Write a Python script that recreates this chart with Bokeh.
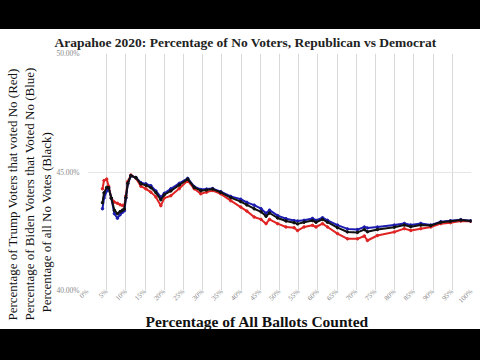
from math import pi
from bokeh.plotting import figure
from bokeh.models import Range1d, FixedTicker, Title, Div
from bokeh.layouts import column
from bokeh.embed import file_html
from bokeh.resources import INLINE

# ---- data ----
pct_counted = [3.9, 4.3, 5.0, 5.5, 6.2, 7.0, 7.8, 8.5, 9.1, 9.6, 10.0, 10.5, 11.3, 12.6, 13.9,
               15.2, 16.5, 17.8, 19.1, 20.0, 21.7, 23.9, 26.1, 27.8, 29.5, 31.0, 32.6, 34.7,
               37.3, 39.9, 41.5, 43.4, 45.2, 46.5, 47.4, 49.5, 51.7, 53.8, 54.7, 56.4, 58.6,
               59.5, 61.2, 62.5, 65.1, 67.7, 70.3, 72.1, 72.9, 75.5, 79.9, 82.5, 84.2, 86.8,
               89.4, 92.0, 94.5, 97.2, 99.8]

trump_no = [44.29, 44.64, 44.70, 44.40, 43.90, 43.73, 43.68, 43.62, 43.59, 43.60, 44.00, 44.60,
            44.87, 44.74, 44.40, 44.29, 44.15, 43.95, 43.58, 43.90, 44.00, 44.30, 44.64, 44.29,
            44.08, 44.15, 44.22, 44.08, 43.79, 43.52, 43.35, 43.10, 43.00, 42.82, 43.00, 42.82,
            42.68, 42.65, 42.53, 42.68, 42.75, 42.68, 42.82, 42.68, 42.40, 42.18, 42.18, 42.30,
            42.11, 42.32, 42.47, 42.61, 42.53, 42.61, 42.68, 42.82, 42.86, 42.93, 42.92]

biden_no = [43.45, 43.90, 44.20, 44.32, 43.90, 43.24, 43.05, 43.20, 43.30, 43.37, 43.90, 44.50,
            44.84, 44.77, 44.55, 44.50, 44.42, 44.20, 43.94, 44.10, 44.29, 44.52, 44.73, 44.38,
            44.26, 44.28, 44.30, 44.17, 43.97, 43.85, 43.72, 43.60, 43.45, 43.26, 43.39, 43.16,
            43.03, 42.95, 42.93, 42.96, 43.04, 42.96, 43.07, 42.96, 42.76, 42.60, 42.57, 42.68,
            42.64, 42.68, 42.76, 42.83, 42.76, 42.83, 42.76, 42.90, 42.94, 42.99, 42.94]

all_no = [43.70, 44.12, 44.35, 44.34, 43.90, 43.39, 43.24, 43.33, 43.39, 43.44, 43.93, 44.53,
          44.85, 44.76, 44.50, 44.44, 44.34, 44.13, 43.83, 44.04, 44.20, 44.45, 44.70, 44.35,
          44.21, 44.24, 44.28, 44.14, 43.92, 43.75, 43.61, 43.45, 43.32, 43.13, 43.27, 43.06,
          42.93, 42.86, 42.81, 42.88, 42.95, 42.88, 43.00, 42.88, 42.65, 42.47, 42.45, 42.57,
          42.48, 42.57, 42.67, 42.76, 42.69, 42.76, 42.74, 42.88, 42.92, 42.97, 42.93]

x_ticks = list(range(0, 101, 5))
x_tick_labels = [f"{t}%" for t in x_ticks]
y_ticks = [40, 45, 50]
y_tick_labels = ["40.00%", "45.00%", "50.00%"]

title_text = "Arapahoe 2020: Percentage of No Voters, Republican vs Democrat"
x_title = "Percentage of All Ballots Counted"
y_titles = ["Percentage of Trump Voters that voted No (Red)",
            "Percentage of Biden Voters that Voted No (Blue)",
            "Percentage of all No Votes (Black)"]

RED = "#e02424"
BLUE = "#1c1cb0"
BLACK = "#111111"
SERIF = "Liberation Serif"

p = figure(width=480, height=300, x_range=Range1d(0, 100), y_range=Range1d(40, 50),
           output_backend="svg", toolbar_location=None, margin=0,
           min_border_left=87, min_border_right=9, min_border_top=24, min_border_bottom=38)
p.outline_line_color = None
p.background_fill_color = "white"
p.border_fill_color = "white"

# axes
p.xaxis.ticker = FixedTicker(ticks=x_ticks)
p.xaxis.major_label_overrides = {t: l for t, l in zip(x_ticks, x_tick_labels)}
p.xaxis.major_label_orientation = pi / 4
p.yaxis.ticker = FixedTicker(ticks=y_ticks)
p.yaxis.major_label_overrides = {t: l for t, l in zip(y_ticks, y_tick_labels)}
for ax in (p.xaxis, p.yaxis):
    ax.axis_line_color = None
    ax.major_tick_line_color = None
    ax.minor_tick_line_color = None
    ax.major_tick_out = 0
    ax.major_tick_in = 0
    ax.minor_tick_out = 0
    ax.minor_tick_in = 0
    ax.major_label_text_color = "#8a8a8a"
    ax.major_label_text_font = SERIF
p.xaxis.major_label_text_font_size = "7px"
p.yaxis.major_label_text_font_size = "7.5px"
p.xaxis.major_label_standoff = 0
p.yaxis.major_label_standoff = 8

p.xgrid.grid_line_color = "#d9d9d9"
p.ygrid.grid_line_color = "#e6e6e6"
p.xgrid.ticker = FixedTicker(ticks=x_ticks)
p.ygrid.ticker = FixedTicker(ticks=y_ticks)

# series
for ys, col in ((trump_no, RED), (biden_no, BLUE), (all_no, BLACK)):
    p.line(pct_counted, ys, line_color=col, line_width=2)
    p.scatter(pct_counted, ys, size=2.5, color=col)

# texts
p.add_layout(Title(text=title_text, align="left", offset=-33, standoff=4,
                   vertical_align="top", text_font=SERIF, text_font_style="bold",
                   text_font_size="13.5px", text_color="#222222"), "above")
p.add_layout(Title(text=x_title, align="left", offset=58, standoff=0,
                   text_font=SERIF, text_font_style="bold",
                   text_font_size="15.5px", text_color="#111111"), "below")
p.add_layout(Title(text=y_titles[2], align="left", offset=-22, standoff=0,
                   text_line_height=0.85, text_font=SERIF, text_font_style="normal",
                   text_font_size="13px", text_color="#111111"), "left")
p.add_layout(Title(text=y_titles[0] + "\n" + y_titles[1], align="left", offset=-30, standoff=0,
                   text_line_height=1.1, text_font=SERIF, text_font_style="normal",
                   text_font_size="13px", text_color="#111111"), "left")

top_bar = Div(width=480, height=29, margin=0, styles={"background-color": "#000000"})
bottom_bar = Div(width=480, height=31, margin=0, styles={"background-color": "#000000"})
layout = column(top_bar, p, bottom_bar, spacing=0, margin=0)
html = file_html(layout, INLINE)
html = html.replace("</head>", "<style>html,body{margin:0;padding:0;background:#ffffff;overflow:hidden;}</style></head>", 1)
open("out.html", "w").write(html)
